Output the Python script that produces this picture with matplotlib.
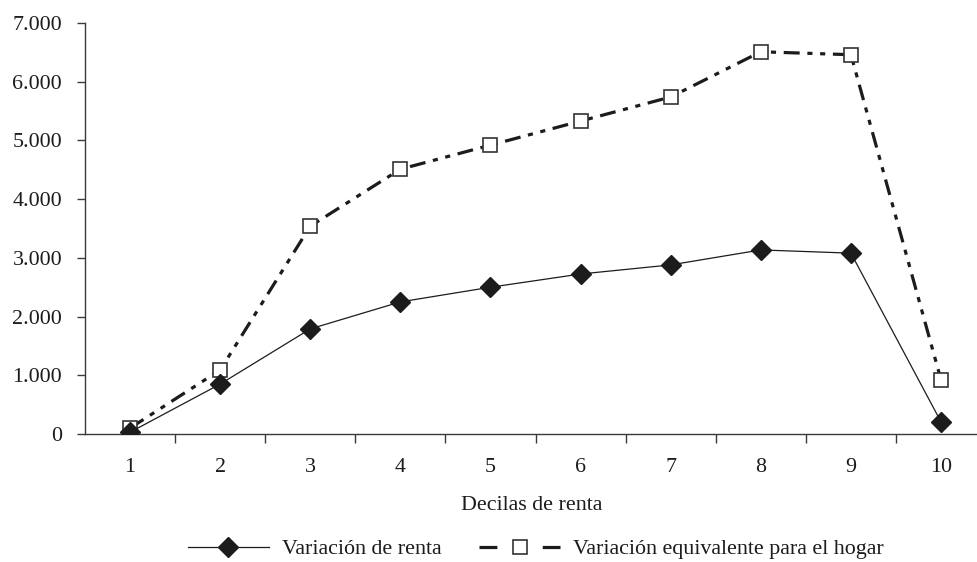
import matplotlib
matplotlib.use("Agg")
import matplotlib.pyplot as plt
from matplotlib.lines import Line2D
from matplotlib.ticker import FuncFormatter, FixedLocator

deciles = [1, 2, 3, 4, 5, 6, 7, 8, 9, 10]
variacion_renta = [30, 850, 1790, 2250, 2500, 2725, 2880, 3135, 3080, 205]
variacion_equivalente = [100, 1090, 3540, 4510, 4920, 5330, 5740, 6510, 6460, 920]
yticks = [0, 1000, 2000, 3000, 4000, 5000, 6000, 7000]
label_s1 = "Variación de renta"
label_s2 = "Variación equivalente para el hogar"
xlabel = "Decilas de renta"

plt.rcParams['font.family'] = ['Liberation Serif', 'DejaVu Serif']
FS = 15.8
ink = '#1c1c1c'
axcol = '#3a3a3a'

W, H = 978, 562
fig = plt.figure(figsize=(W / 100, H / 100), dpi=100)
ax = fig.add_axes([85 / W, (H - 434) / H, (W - 85) / W, 411 / H])

lw2 = 2.3
sq_kw = dict(marker='s', markersize=10.5, markerfacecolor='white',
             markeredgecolor='#333333', markeredgewidth=1.2)
di_kw = dict(marker='D', markersize=10.5, markerfacecolor=ink, markeredgecolor=ink)

ax.plot(deciles, variacion_equivalente, color=ink, lw=lw2,
        linestyle=(0, (5.0, 2.4, 1.6, 2.4, 1.6, 2.4)),
        label=label_s2, zorder=3, **sq_kw)
ax.plot(deciles, variacion_renta, color=ink, lw=0.9,
        label=label_s1, zorder=4, **di_kw)

ax.set_ylim(0, 7000)
ax.set_xlim(0.5, 0.5 + (W - 85) / 90.11)
ax.set_yticks(yticks)
ax.yaxis.set_major_formatter(FuncFormatter(lambda v, p: f"{int(v):,}".replace(",", ".")))

# category boundaries as ticks, labels at centres
ax.xaxis.set_major_locator(FixedLocator([d + 0.5 for d in deciles]))
ax.xaxis.set_major_formatter(FuncFormatter(lambda v, p: ""))
ax.xaxis.set_minor_locator(FixedLocator(deciles))
ax.xaxis.set_minor_formatter(FuncFormatter(lambda v, p: f"{int(round(v))}"))
ax.tick_params(axis='x', which='major', direction='out', length=6.5, width=1.0, color=axcol)
ax.tick_params(axis='x', which='minor', length=0, pad=17, labelsize=FS, labelcolor=ink)
ax.tick_params(axis='y', direction='out', length=6, width=1.0, color=axcol,
               pad=10.5, labelsize=FS, labelcolor=ink)

for s in ['top', 'right']:
    ax.spines[s].set_visible(False)
for s in ['left', 'bottom']:
    ax.spines[s].set_color(axcol)
    ax.spines[s].set_linewidth(1.0)

ax.set_xlabel(xlabel, fontsize=FS, color=ink, labelpad=14)

# legend proxies (legend styling only)
h1 = Line2D([], [], color=ink, lw=0.9, **di_kw)
h2 = Line2D([], [], color=ink, lw=lw2, linestyle=(0, (5.6, 14.2)), **sq_kw)
leg = fig.legend([h1, h2], [label_s1, label_s2], loc='center',
                 bbox_to_anchor=(536 / W, (H - 549) / H), ncol=2, frameon=False,
                 fontsize=FS, handlelength=3.7, handletextpad=0.6, columnspacing=1.7,
                 labelcolor=ink)

fig.savefig("out.png", dpi=100)
